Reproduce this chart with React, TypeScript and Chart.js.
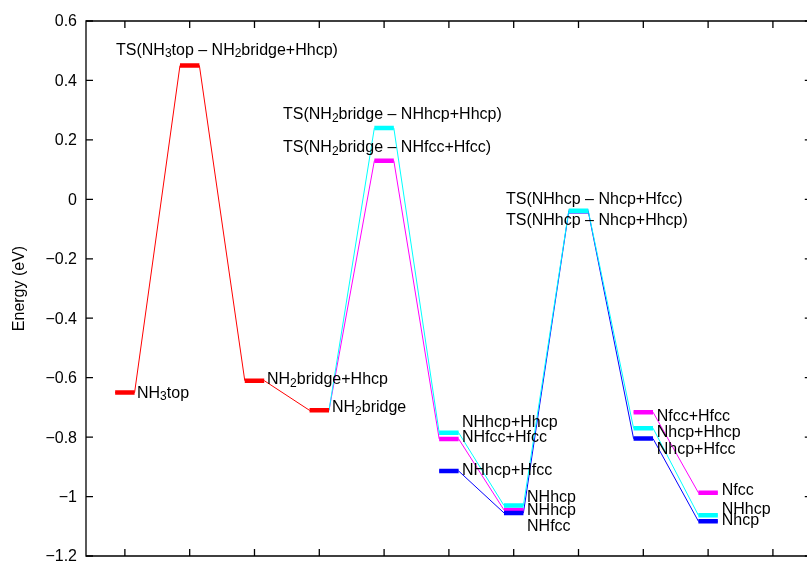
import { useEffect, useRef } from 'react';
import { Chart, registerables } from 'chart.js';

Chart.register(...registerables);

// x tick positions (reaction steps) and y ticks
const xTickValues = [1, 2, 3, 4, 5, 6, 7, 8, 9, 10, 11];
const yTickValues = [0.6, 0.4, 0.2, 0, -0.2, -0.4, -0.6, -0.8, -1, -1.2];
const yTickLabels = ['0.6', '0.4', '0.2', '0', '−0.2', '−0.4', '−0.6', '−0.8', '−1', '−1.2'];

// energy pathways (step index, energy in eV)
const redSteps = [1, 2, 3, 4];
const redEnergies = [-0.65, 0.45, -0.61, -0.71];
const magentaSteps = [4, 5, 6, 7];
const magentaEnergies = [-0.71, 0.13, -0.806, -1.045];
const magentaLateSteps = [9, 10];
const magentaLateEnergies = [-0.716, -0.987];
const cyanSteps = [4, 5, 6, 7, 8, 9, 10];
const cyanEnergies = [-0.71, 0.24, -0.785, -1.03, -0.038, -0.77, -1.063];
const blueSteps = [6, 7, 8, 9, 10];
const blueEnergies = [-0.914, -1.055, -0.04, -0.805, -1.083];

// state labels ("_d" = subscript digit), anchored in data coordinates
const labelTexts = [
  'TS(NH_3top – NH_2bridge+Hhcp)',
  'NH_3top',
  'NH_2bridge+Hhcp',
  'NH_2bridge',
  'TS(NH_2bridge – NHhcp+Hhcp)',
  'TS(NH_2bridge – NHfcc+Hfcc)',
  'TS(NHhcp – Nhcp+Hfcc)',
  'TS(NHhcp – Nhcp+Hhcp)',
  'NHhcp+Hhcp',
  'NHfcc+Hfcc',
  'NHhcp+Hfcc',
  'NHhcp',
  'NHhcp',
  'NHfcc',
  'Nfcc+Hfcc',
  'Nhcp+Hhcp',
  'Nhcp+Hfcc',
  'Nfcc',
  'NHhcp',
  'Nhcp',
];
const labelX = [0.863, 1.187, 3.193, 4.196, 3.44, 3.44, 6.881, 6.881, 6.202, 6.202, 6.202, 7.206, 7.206, 7.206, 9.207, 9.207, 9.207, 10.21, 10.21, 10.21];
const labelY = [0.502, -0.652, -0.608, -0.702, 0.284, 0.173, -0.002, -0.07, -0.752, -0.801, -0.911, -1.003, -1.048, -1.102, -0.731, -0.784, -0.843, -0.981, -1.045, -1.081];

const HALF = 0.15;
const FONT = '"Liberation Sans", Arial, Helvetica, sans-serif';

function barData(steps: number[], energies: number[], skipFirst: boolean) {
  const pts: any[] = [];
  steps.forEach((s, i) => {
    if (i === 0 && skipFirst) return;
    pts.push({ x: s - HALF, y: energies[i] });
    pts.push({ x: s + HALF, y: energies[i] });
    pts.push({ x: s + HALF, y: null });
  });
  return pts;
}

function pathData(steps: number[], energies: number[], skipFirst: boolean) {
  const pts: any[] = [];
  steps.forEach((s, i) => {
    if (!(i === 0 && skipFirst)) pts.push({ x: s - HALF, y: energies[i] });
    pts.push({ x: s + HALF, y: energies[i] });
  });
  return pts;
}

function drawRich(ctx: CanvasRenderingContext2D, text: string, x: number, y: number) {
  const parts = text.split(/(_\d)/).filter((p) => p.length > 0);
  let cx = x;
  ctx.textAlign = 'left';
  ctx.textBaseline = 'middle';
  for (const p of parts) {
    if (p.startsWith('_')) {
      ctx.font = `12px ${FONT}`;
      ctx.fillText(p[1], cx, y + 4);
      cx += ctx.measureText(p[1]).width;
    } else {
      ctx.font = `16px ${FONT}`;
      ctx.fillText(p, cx, y);
      cx += ctx.measureText(p).width;
    }
  }
}

const framePlugin = {
  id: 'frame',
  afterDraw(chart: any) {
    const { ctx, chartArea } = chart;
    const xs = chart.scales.x;
    const ys = chart.scales.y;
    const left = chartArea.left;
    const top = chartArea.top;
    const bottom = chartArea.bottom;
    const right = xs.getPixelForValue(11.6);
    ctx.save();
    ctx.strokeStyle = '#000';
    ctx.lineWidth = 1.3;
    ctx.beginPath();
    ctx.moveTo(left, top);
    ctx.lineTo(right, top);
    ctx.lineTo(right, bottom);
    ctx.lineTo(left, bottom);
    ctx.closePath();
    ctx.stroke();
    const tl = 7;
    ctx.beginPath();
    xTickValues.forEach((v) => {
      const px = xs.getPixelForValue(v);
      ctx.moveTo(px, top);
      ctx.lineTo(px, top + tl);
      ctx.moveTo(px, bottom);
      ctx.lineTo(px, bottom - tl);
    });
    yTickValues.forEach((v) => {
      const py = ys.getPixelForValue(v);
      ctx.moveTo(left, py);
      ctx.lineTo(left + tl, py);
      ctx.moveTo(right, py);
      ctx.lineTo(right - tl, py);
    });
    ctx.stroke();

    ctx.fillStyle = '#000';
    ctx.font = `16px ${FONT}`;
    ctx.textAlign = 'right';
    ctx.textBaseline = 'middle';
    yTickValues.forEach((v, i) => {
      ctx.fillText(yTickLabels[i], left - 9, ys.getPixelForValue(v) + 1);
    });

    ctx.save();
    ctx.translate(20, (top + bottom) / 2);
    ctx.rotate(-Math.PI / 2);
    ctx.textAlign = 'center';
    ctx.textBaseline = 'middle';
    ctx.fillText('Energy (eV)', 0, 0);
    ctx.restore();

    labelTexts.forEach((t, i) => {
      drawRich(ctx, t, xs.getPixelForValue(labelX[i]), ys.getPixelForValue(labelY[i]));
    });
    ctx.restore();
  },
};

const RED = '#ff0000';
const MAGENTA = '#ff00ff';
const CYAN = '#00ffff';
const BLUE = '#0000ff';

export default function App() {
  const ref = useRef<HTMLCanvasElement | null>(null);
  useEffect(() => {
    document.body.style.margin = '0';
    const canvas = ref.current;
    if (!canvas) return;
    const bar = (data: any[], color: string) => ({
      data,
      borderColor: color,
      backgroundColor: color,
      borderWidth: 4.5,
      pointRadius: 0,
      spanGaps: false,
      tension: 0,
      borderCapStyle: 'butt',
    });
    const path = (data: any[], color: string) => ({
      data,
      borderColor: color,
      backgroundColor: color,
      borderWidth: 1,
      pointRadius: 0,
      tension: 0,
    });
    const chart = new Chart(canvas, {
      type: 'line',
      data: {
        datasets: [
          bar(barData(cyanSteps, cyanEnergies, true), CYAN),
          bar(barData(blueSteps, blueEnergies, false), BLUE),
          bar(barData(magentaSteps, magentaEnergies, true), MAGENTA),
          bar(barData(magentaLateSteps, magentaLateEnergies, false), MAGENTA),
          bar(barData(redSteps, redEnergies, false), RED),
          path(pathData(cyanSteps, cyanEnergies, true), CYAN),
          path(pathData(blueSteps, blueEnergies, false), BLUE),
          path(pathData(magentaSteps, magentaEnergies, true), MAGENTA),
          path(pathData(magentaLateSteps, magentaLateEnergies, false), MAGENTA),
          path(pathData(redSteps, redEnergies, false), RED),
        ] as any,
      },
      options: {
        responsive: false,
        animation: false,
        devicePixelRatio: 1,
        layout: { padding: { left: 86, top: 21, right: 0, bottom: 5 } },
        plugins: { legend: { display: false }, tooltip: { enabled: false } },
        events: [],
        scales: {
          x: { type: 'linear', min: 0.4, max: 11.526, display: false },
          y: { type: 'linear', min: -1.2, max: 0.6, display: false },
        },
      } as any,
      plugins: [framePlugin],
    });
    return () => chart.destroy();
  }, []);
  return (
    <div style={{ width: 807, height: 561, background: '#fff' }}>
      <canvas ref={ref} width={807} height={561} style={{ display: 'block', width: 807, height: 561 }} />
    </div>
  );
}
